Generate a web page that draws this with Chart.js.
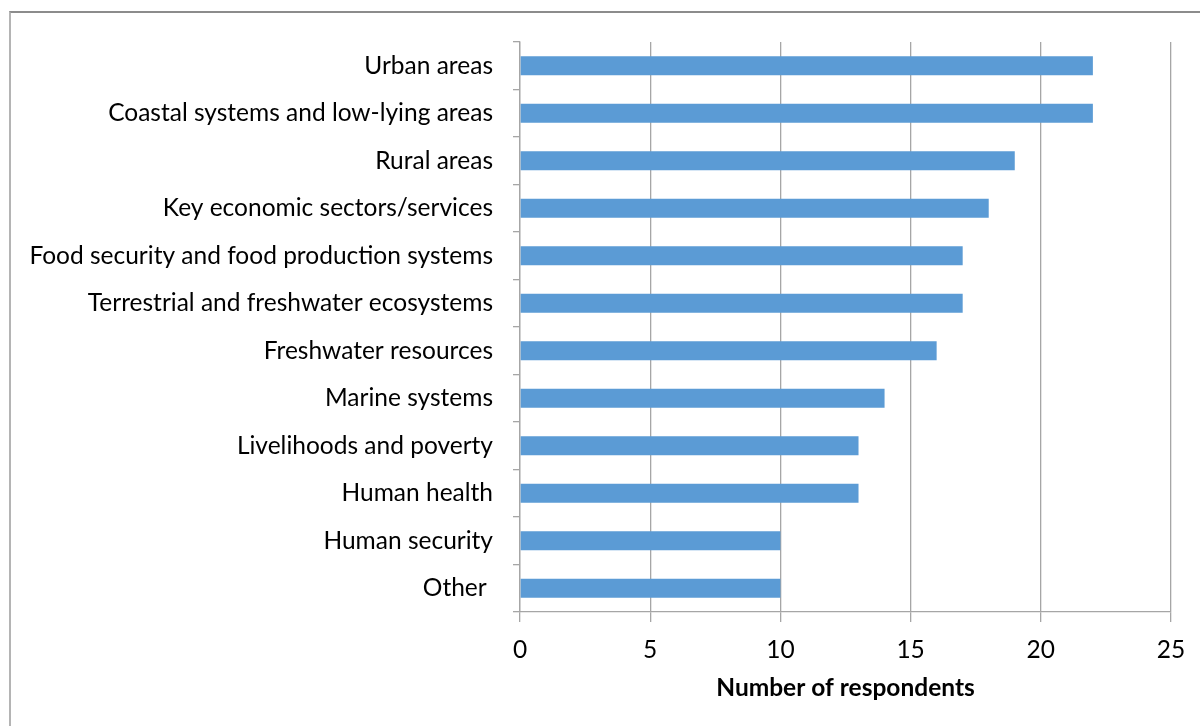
<!DOCTYPE html>
<html>
<head>
<meta charset="utf-8">
<script src="https://cdn.jsdelivr.net/npm/chart.js@4/dist/chart.umd.min.js"></script>
<style>
  html, body { margin: 0; padding: 0; background: #fff; }
  #wrap { position: relative; width: 1200px; height: 726px; overflow: hidden; }
  #frame { position: absolute; left: 9px; top: 11px; width: 1300px; height: 800px;
           border-top: 2px solid #8c8c8c; border-left: 2px solid #b4b4b4; }
  canvas { position: absolute; left: 0; top: 0; }
</style>
</head>
<body>
<div id="wrap">
  <div id="frame"></div>
  <canvas id="canvas" width="1200" height="726"></canvas>
</div>
<script>
const categories = [
  'Urban areas',
  'Coastal systems and low-lying areas',
  'Rural areas',
  'Key economic sectors/services',
  'Food security and food production systems',
  'Terrestrial and freshwater ecosystems',
  'Freshwater resources',
  'Marine systems',
  'Livelihoods and poverty',
  'Human health',
  'Human security',
  'Other '
]
const respondents = [22, 22, 19, 18, 17, 17, 16, 14, 13, 13, 10, 10]
const xTicks = [0, 5, 10, 15, 20, 25]
const xTitle = 'Number of respondents'

const gridColor = '#a6a6a6'
const fontFamily = 'Lato, "Open Sans", sans-serif'
const fontSize = 24.5

const ctx = document.querySelector('#canvas').getContext('2d')

const config = {
  type: 'bar',
  data: {
    labels: categories,
    datasets: [{
      data: respondents,
      backgroundColor: '#5b9bd5',
      barPercentage: 0.8,
      categoryPercentage: 0.5
    }]
  },
  options: {
    indexAxis: 'y',
    responsive: false,
    animation: false,
    layout: {
      padding: { top: 42, right: 29, left: 0, bottom: 0 }
    },
    plugins: {
      legend: { display: false },
      tooltip: { enabled: false }
    },
    scales: {
      x: {
        min: xTicks[0],
        max: xTicks[xTicks.length - 1],
        afterBuildTicks: (scale) => {
          scale.ticks = xTicks.map(v => ({ value: v }))
        },
        afterFit: (scale) => { scale.height = 114 },
        grid: {
          color: gridColor,
          lineWidth: 1.3,
          tickLength: 10
        },
        border: { color: gridColor, width: 1.3 },
        ticks: {
          color: '#000',
          padding: 13,
          font: { family: fontFamily, size: fontSize }
        },
        title: {
          display: true,
          text: xTitle,
          color: '#000',
          padding: { top: 0, bottom: 23 },
          font: { family: fontFamily, size: fontSize, weight: 'bold' }
        }
      },
      y: {
        afterFit: (scale) => { scale.width = 520 },
        grid: {
          color: gridColor,
          lineWidth: 1.3,
          drawOnChartArea: false,
          tickLength: 7,
          offset: true
        },
        border: { color: gridColor, width: 1.3 },
        ticks: {
          color: '#000',
          padding: 20,
          font: { family: fontFamily, size: fontSize }
        }
      }
    }
  }
}

const myChart = new Chart(ctx, config)
</script>
</body>
</html>
